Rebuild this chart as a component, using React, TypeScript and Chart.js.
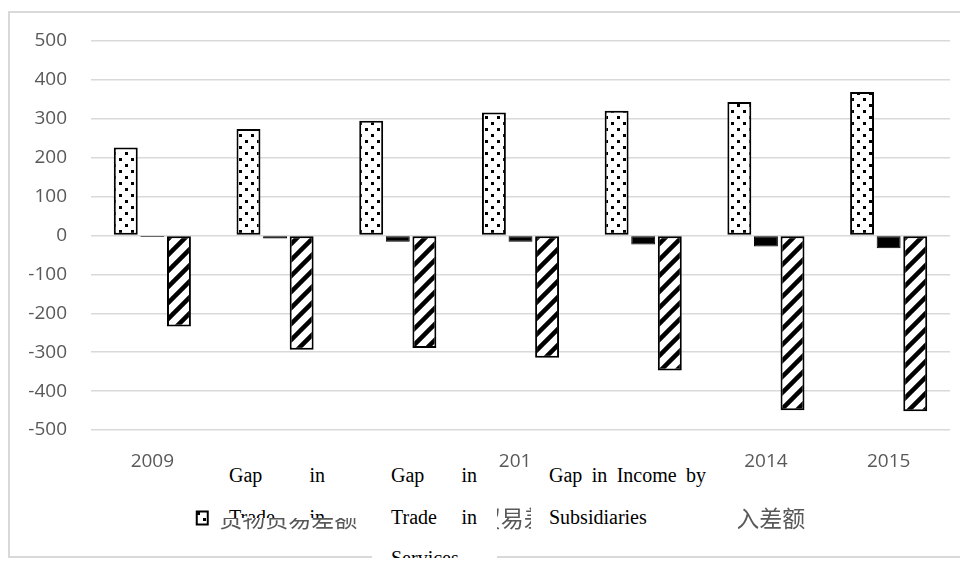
import React, { useEffect, useRef } from 'react';
import { Chart, registerables } from 'chart.js';

Chart.register(...registerables);

// ---- data ----
const years = ['2009', '2010', '2011', '2012', '2013', '2014', '2015'];
const goodsGap = [226, 274, 295, 316, 321, 343, 369];
const servicesGap = [-4, -8, -16, -16, -23, -28, -33];
const incomeGap = [-234, -294, -289, -314, -347, -449, -452];
const seriesNames = ['货物贸易差额', '服务贸易差额', '子公司收入差额'];
const yMin = -500;
const yMax = 500;
const yStep = 100;
const englishNotes = ['Gap in Trade in Goods', 'Gap in Trade in Services', 'Gap in Income by Subsidiaries'];

function makeDots(): CanvasPattern | string {
  const c = document.createElement('canvas');
  c.width = 12;
  c.height = 12;
  const g = c.getContext('2d');
  if (!g) return '#fff';
  g.fillStyle = '#ffffff';
  g.fillRect(0, 0, 12, 12);
  g.fillStyle = '#000000';
  g.fillRect(1, 1, 3, 3);
  g.fillRect(7, 7, 3, 3);
  return g.createPattern(c, 'repeat') || '#fff';
}

function makeHatch(): CanvasPattern | string {
  const s = 16;
  const c = document.createElement('canvas');
  c.width = s;
  c.height = s;
  const g = c.getContext('2d');
  if (!g) return '#fff';
  g.fillStyle = '#ffffff';
  g.fillRect(0, 0, s, s);
  g.strokeStyle = '#000000';
  g.lineWidth = 4.5;
  g.beginPath();
  g.moveTo(-s / 2, s / 2);
  g.lineTo(s / 2, -s / 2);
  g.moveTo(-2, s + 2);
  g.lineTo(s + 2, -2);
  g.moveTo(s / 2, s * 1.5);
  g.lineTo(s * 1.5, s / 2);
  g.stroke();
  return g.createPattern(c, 'repeat') || '#fff';
}

// moves the legend box after layout (Excel-like placement)
const legendShift = {
  id: 'legendShift',
  afterLayout(chart: any) {
    const l = chart.legend;
    if (!l) return;
    const dx = 14;
    const dy = -16.5;
    l.left += dx;
    l.right += dx;
    l.top += dy;
    l.bottom += dy;
  },
};

const noteBase: React.CSSProperties = {
  position: 'absolute',
  boxSizing: 'border-box',
  background: '#ffffff',
  fontFamily: "'Liberation Serif', 'Times New Roman', serif",
  fontSize: 20,
  lineHeight: '41.5px',
  textAlign: 'justify',
  color: '#000',
  paddingTop: 1,
};

export default function App() {
  const ref = useRef<HTMLCanvasElement>(null);

  useEffect(() => {
    if (!ref.current) return;
    const xTickFont = { family: "'Open Sans', sans-serif", size: 19, lineHeight: 1 };
    const yTickFont = { family: "'Open Sans', sans-serif", size: 19, lineHeight: 0.1 };
    const chart = new Chart(ref.current, {
      type: 'bar',
      plugins: [legendShift],
      data: {
        labels: years,
        datasets: [
          {
            label: seriesNames[0],
            data: goodsGap,
            backgroundColor: makeDots(),
            borderColor: '#000',
            borderWidth: 2,
            borderSkipped: false,
          },
          {
            label: seriesNames[1],
            data: servicesGap,
            backgroundColor: '#000',
            borderColor: '#000',
            borderWidth: 1,
            borderSkipped: false,
          },
          {
            label: seriesNames[2],
            data: incomeGap,
            backgroundColor: makeHatch(),
            borderColor: '#000',
            borderWidth: 2,
            borderSkipped: false,
          },
        ],
      },
      options: {
        animation: false,
        responsive: false,
        datasets: { bar: { categoryPercentage: 0.65, barPercentage: 0.9 } },
        layout: { padding: { left: 14, right: 18, top: 28, bottom: 0 } },
        plugins: {
          legend: {
            position: 'bottom',
            labels: {
              font: { family: "'Noto Sans CJK SC', sans-serif", size: 23 },
              color: '#595959',
              boxWidth: 11,
              boxHeight: 13,
              padding: 52,
            },
          },
          tooltip: { enabled: false },
        },
        scales: {
          x: {
            grid: { display: false, drawTicks: false },
            border: { display: false },
            ticks: { font: xTickFont, color: '#595959', padding: 22.5, maxRotation: 0, autoSkip: false },
            afterFit: (s: any) => {
              s.height = 41;
            },
          },
          y: {
            min: yMin,
            max: yMax,
            ticks: { stepSize: yStep, font: yTickFont, color: '#595959', padding: 24 },
            grid: { color: '#d9d9d9', lineWidth: 1.5, drawTicks: false },
            border: { display: false },
            afterFit: (s: any) => {
              s.width = 67;
            },
          },
        },
      },
    } as any);
    return () => chart.destroy();
  }, []);

  return (
    <div style={{ position: 'relative', paddingTop: 3 }}>
      <div
        style={{
          position: 'relative',
          width: 958,
          height: 543,
          borderTop: '2px solid #d9d9d9',
          borderLeft: '2px solid #d9d9d9',
          borderBottom: '2px solid #d9d9d9',
        }}
      >
        <canvas ref={ref} width={958} height={543} style={{ display: 'block', width: 958, height: 543 }} />
      </div>
      <div
        style={{ ...noteBase, overflow: 'hidden', left: 204, top: 446, width: 148, height: 64, paddingLeft: 17, paddingRight: 35 }}
      >
        {englishNotes[0]}
      </div>
      <div style={{ ...noteBase, left: 364, top: 446, width: 125, height: 112, paddingLeft: 19, paddingRight: 20 }}>
        {englishNotes[1]}
      </div>
      <div style={{ ...noteBase, left: 523, top: 446, width: 207, height: 88, paddingLeft: 18, paddingRight: 32 }}>
        {englishNotes[2]}
      </div>
    </div>
  );
}
